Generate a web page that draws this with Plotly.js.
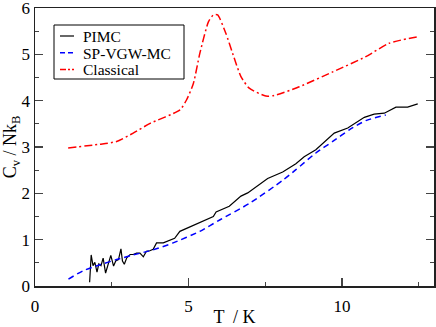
<!DOCTYPE html>
<html><head><meta charset="utf-8">
<script src="https://cdn.plot.ly/plotly-3.0.1.min.js"></script>
<style>html,body{margin:0;padding:0;background:#fff}#c{width:436px;height:327px}</style>
</head><body><div id="c"></div>
<script>
const pimcT = [1.78,1.83,1.89,1.95,2.02,2.08,2.15,2.22,2.30,2.39,2.47,2.56,2.63,2.72,2.80,2.85,2.91,2.99,3.10,3.20,3.31,3.42,3.53,3.63,3.74,3.85,3.96,4.18,4.40,4.55,4.72,5.05,5.37,5.81,5.90,6.03,6.33,6.71,6.93,7.58,8.07,8.50,8.77,9.15,9.75,10.19,10.73,11.05,11.38,11.76,12.14,12.47];
const pimcC = [0.08,0.67,0.44,0.51,0.30,0.48,0.44,0.60,0.28,0.50,0.66,0.43,0.54,0.57,0.80,0.54,0.47,0.61,0.68,0.68,0.71,0.71,0.63,0.75,0.76,0.79,0.93,0.93,0.98,1.03,1.18,1.28,1.36,1.50,1.60,1.64,1.72,1.94,2.01,2.32,2.46,2.64,2.79,2.94,3.30,3.41,3.64,3.71,3.73,3.86,3.86,3.93];
const vgwT = [1.09,1.57,2.12,2.66,3.20,3.85,4.50,5.37,6.03,6.98,8.07,8.50,9.15,9.70,10.24,10.78,11.43];
const vgwC = [0.15,0.33,0.46,0.57,0.67,0.78,0.93,1.18,1.43,1.78,2.28,2.51,2.87,3.12,3.37,3.57,3.69];
const clT = [1.08,2.12,2.66,3.20,3.75,4.72,4.94,5.16,5.37,5.65,5.81,5.95,6.22,6.44,6.71,6.98,7.52,7.79,8.61,9.70,10.78,11.54,12.47];
const clC = [2.98,3.06,3.12,3.30,3.51,3.80,4.02,4.37,5.02,5.70,5.85,5.85,5.45,5.02,4.52,4.27,4.10,4.11,4.30,4.62,4.95,5.24,5.38];
const seriesNames = ['PIMC','SP-VGW-MC','Classical'];
const xTicks = [0, 5, 10];
const yTicks = [0, 1, 2, 3, 4, 5, 6];

const F = 'Liberation Serif';
const W = 436, H = 327;
const M = {l: 35, r: 2, t: 8, b: 41};
const styles = [
  {color: '#000000', width: 1.2, dash: 'solid'},
  {color: '#0000ff', width: 1.5, dash: '6px,4px'},
  {color: '#ff0000', width: 1.5, dash: '8px,3px,2px,3px'}
];
const traces = [
  {x: pimcT, y: pimcC, name: seriesNames[0], mode: 'lines', line: Object.assign({}, styles[0])},
  {x: vgwT, y: vgwC, name: seriesNames[1], mode: 'lines', line: Object.assign({shape: 'spline', smoothing: 0.6}, styles[1])},
  {x: clT, y: clC, name: seriesNames[2], mode: 'lines', line: Object.assign({shape: 'spline', smoothing: 0.6}, styles[2])}
];

// legend drawn as a box with samples and text (paper coordinates from pixel layout)
const pw = W - M.l - M.r, ph = H - M.t - M.b;
const px = v => (v - M.l) / pw;
const py = v => (H - M.b - v) / ph;
const legBox = {x0: 54, x1: 184, y0: 25, y1: 79};
const legRows = [36, 52.7, 69.4];
const shapes = [{type: 'rect', xref: 'paper', yref: 'paper', x0: px(legBox.x0), x1: px(legBox.x1), y0: py(legBox.y1), y1: py(legBox.y0),
  line: {color: '#000', width: 1}, fillcolor: '#fff', layer: 'above'}];
const annotations = [];
seriesNames.forEach((n, i) => {
  shapes.push({type: 'line', xref: 'paper', yref: 'paper', x0: px(60), x1: px(74), y0: py(legRows[i]), y1: py(legRows[i]),
    line: {color: styles[i].color, width: styles[i].width, dash: i === 2 ? '6px,2px,2px,2px' : (i === 1 ? '5px,3px' : 'solid')}, layer: 'above'});
  annotations.push({xref: 'paper', yref: 'paper', x: px(82), y: py(legRows[i]), xanchor: 'left', yanchor: 'middle',
    height: 16, valign: 'middle', borderpad: 0,
    text: n, showarrow: false, font: {family: F, size: 15.5, color: '#000'}});
});

const layout = {
  width: W, height: H,
  font: {family: F, color: '#000', size: 17},
  margin: M,
  paper_bgcolor: '#fff', plot_bgcolor: '#fff',
  showlegend: false,
  shapes: shapes, annotations: annotations,
  xaxis: {range: [0, 13], tickmode: 'array', tickvals: xTicks, ticktext: xTicks.map(String),
    showgrid: false, zeroline: false, showline: true, linecolor: '#222', linewidth: 1.5, mirror: true,
    ticks: 'inside', ticklen: 8, tickwidth: 1.2, tickcolor: '#444', ticklabelstandoff: 4, ticklabeloverflow: 'allow',
    tickfont: {family: F, size: 17, color: '#000'},
    minor: {ticks: 'inside', ticklen: 4, dtick: 2.5, tickcolor: '#444', tickmode: 'linear', tick0: 0},
    title: {text: 'T  / K', font: {family: F, size: 18, color: '#000'}, standoff: 2}},
  yaxis: {range: [0, 6], tickmode: 'array', tickvals: yTicks, ticktext: yTicks.map(String),
    showgrid: false, zeroline: false, showline: true, linecolor: '#222', linewidth: 1.5, mirror: 'ticks',
    ticks: 'inside', ticklen: 8, tickwidth: 1.2, tickcolor: '#444', ticklabeloverflow: 'allow',
    tickfont: {family: F, size: 17, color: '#000'},
    minor: {ticks: 'inside', ticklen: 4, dtick: 0.5, tickcolor: '#444', tickmode: 'linear', tick0: 0},
    title: {text: 'C<sub>v</sub> / Nk<sub>B</sub>', font: {family: F, size: 18, color: '#000'}, standoff: 4}}
};
Plotly.newPlot('c', traces, layout, {staticPlot: true, displayModeBar: false});
</script></body></html>
